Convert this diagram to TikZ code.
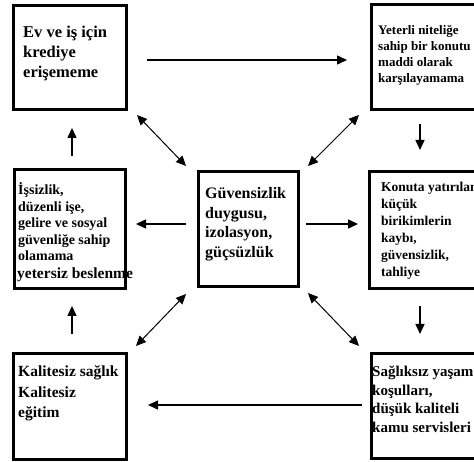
\documentclass[tikz,border=0pt]{standalone}
\usepackage{fontspec}
\setmainfont{Liberation Serif}
\usetikzlibrary{arrows.meta}

% multi-line text block whose baseline is the first line
\newcommand{\blocktext}[3]{{\fontsize{#1}{#2}\selectfont\bfseries\begin{tabular}[t]{@{}l@{}}#3\end{tabular}}}

\begin{document}
\begin{tikzpicture}[x=1pt,y=-1pt,
  box/.style={draw=black,line width=2.6pt,rectangle,anchor=north west,inner sep=0pt},
  label/.style={anchor=base west,inner sep=0pt,text=black},
  link/.style={line width=1.4pt,-{Triangle[length=10pt,width=9pt]}},
  twoway/.style={line width=1pt,{Triangle[length=10pt,width=9pt]}-{Triangle[length=10pt,width=9pt]}}]
\useasboundingbox (0,0) rectangle (474,462);
\clip (0,0) rectangle (474,462);

% boxes
\node[box,minimum width=113pt,minimum height=104pt] (credit) at (12,4) {};
\node[box,minimum width=120pt,minimum height=105pt] (afford) at (370,3) {};
\node[box,minimum width=111pt,minimum height=119pt] (jobs) at (13,168) {};
\node[box,minimum width=100pt,minimum height=115pt] (core) at (197,170) {};
\node[box,minimum width=122pt,minimum height=117pt] (savings) at (368,170) {};
\node[box,minimum width=113pt,minimum height=106pt] (services) at (12,352) {};
\node[box,minimum width=120pt,minimum height=105pt] (living) at (370,352) {};

% texts
\node[label] (creditT) at (23,38) {\blocktext{16.5}{20}{Ev ve iş için\\krediye\\erişememe}};
\node[label] (affordT) at (378,35) {\blocktext{13}{16}{Yeterli niteliğe\\sahip bir konutu\\maddi olarak\\karşılayamama}};
\node[label] (jobsT) at (18,195) {\blocktext{14}{16.5}{İşsizlik,\\düzenli işe,\\gelire ve sosyal\\güvenliğe sahip\\olamama}};
\node[label] (foodT) at (17,279) {\blocktext{15.5}{18}{yetersiz beslenme}};
\node[label] (coreT) at (205,199) {\blocktext{16}{19.5}{Güvensizlik\\duygusu,\\izolasyon,\\güçsüzlük}};
\node[label] (savingsT) at (381,192) {\blocktext{13.5}{17}{Konuta yatırılan\\küçük\\birikimlerin\\kaybı,\\güvensizlik,\\tahliye}};
\node[label] (servicesT) at (18,377) {\blocktext{15.5}{20.5}{Kalitesiz sağlık\\Kalitesiz\\eğitim}};
\node[label] (livingT) at (372,377) {\blocktext{15}{18.5}{Sağlıksız yaşam\\koşulları,\\düşük kaliteli\\kamu servisleri}};

% connector end points
\coordinate (a1) at (147,60);  \coordinate (a2) at (347,60);
\coordinate (b1) at (137,115); \coordinate (b2) at (186,166);
\coordinate (c1) at (359,115); \coordinate (c2) at (308,166);
\coordinate (d1) at (136,346); \coordinate (d2) at (186,294);
\coordinate (e1) at (359,346); \coordinate (e2) at (308,293);
\coordinate (f1) at (186,224); \coordinate (f2) at (136,224);
\coordinate (g1) at (306,224); \coordinate (g2) at (358,224);
\coordinate (h1) at (72,156);  \coordinate (h2) at (72,128);
\coordinate (i1) at (72,334);  \coordinate (i2) at (72,306);
\coordinate (j1) at (420,124); \coordinate (j2) at (420,150);
\coordinate (k1) at (420,306); \coordinate (k2) at (420,334);
\coordinate (l1) at (362,405); \coordinate (l2) at (148,405);

% connectors
\draw[link] (a1) -- (a2);
\draw[twoway] (b1) -- (b2);
\draw[twoway] (c1) -- (c2);
\draw[twoway] (d1) -- (d2);
\draw[twoway] (e1) -- (e2);
\draw[link] (f1) -- (f2);
\draw[link] (g1) -- (g2);
\draw[link] (h1) -- (h2);
\draw[link] (i1) -- (i2);
\draw[link] (j1) -- (j2);
\draw[link] (k1) -- (k2);
\draw[link] (l1) -- (l2);
\end{tikzpicture}
\end{document}
